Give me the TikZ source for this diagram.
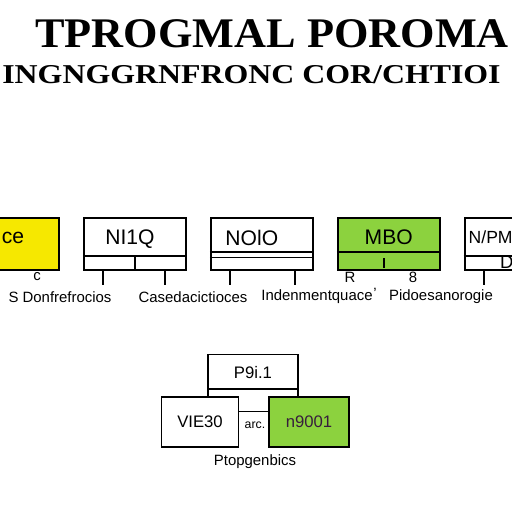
\documentclass[tikz,border=0pt]{standalone}
\usepackage{fontspec}
\usepackage{graphicx}
\setmainfont{Liberation Serif}
\setsansfont{Liberation Sans}
\usetikzlibrary{positioning, calc}

\definecolor{boxyellow}{RGB}{246,232,0}
\definecolor{boxgreen}{RGB}{140,210,62}
\definecolor{darktext}{RGB}{55,30,60}

\begin{document}
\begin{tikzpicture}[
    x=0.02cm, y=-0.02cm,
    node distance=0.46cm,
    box/.style={rectangle, draw, line width=1.1pt, minimum width=2.04cm, minimum height=1.04cm, inner sep=0pt},
    boxtext/.style={font=\sffamily\fontsize{12}{12}\selectfont},
    smalltext/.style={font=\sffamily\fontsize{9.5}{10}\selectfont},
    stub/.style={line width=1.1pt},
    label/.style={font=\sffamily\fontsize{8.5}{9}\selectfont},
    title/.style={font=\bfseries\fontsize{24}{24}\selectfont, inner sep=0pt}
]
    \useasboundingbox (0,0) rectangle (512,512);

    % Title
    \node[title, anchor=base west] (title-a) at (35,47) {\scalebox{1.05}[1]{TPROGMAL POROMA}};
    \node[title, anchor=base west, font=\bfseries\fontsize{15.5}{16}\selectfont] (title-b) at (2,83)
        {\scalebox{1.17}[1]{INGNGGRNFRONC COR/CHTIOI}};

    % Row of boxes
    \node[box, fill=boxyellow] (b1) at (8,244) {};
    \node[box, right=of b1] (b2) {};
    \node[box, right=of b2] (b3) {};
    \node[box, right=of b3, fill=boxgreen] (b4) {};
    \node[box, right=of b4] (b5) {};

    \node[boxtext] (b1-txt) at ($(b1.center)+(5,-6)$) {ce};
    \node[boxtext] (b2-txt) at ($(b2.center)+(-5,-5)$) {NI1Q};
    \node[boxtext] (b3-txt) at ($(b3.center)+(-10,-6)$) {NOlO};
    \node[boxtext] (b4-txt) at ($(b4.center)+(0,-7)$) {MBO};
    \node[boxtext, font=\sffamily\fontsize{10}{11}\selectfont] (b5-txt) at ($(b5.west)+(27,-7)$) {N/PM};
    \node[boxtext, font=\sffamily\fontsize{10.5}{11}\selectfont] (b5-d) at ($(b5.west)+(43,18)$) {D};

    % Inner lines
    \draw[stub] ($(b2.south west)!0.27!(b2.north west)$) -- ($(b2.south east)!0.27!(b2.north east)$);
    \draw[stub] (b2.south) -- ++(0,-14);
    \draw[stub] ($(b3.south west)!0.35!(b3.north west)$) -- ($(b3.south east)!0.35!(b3.north east)$);
    \draw[stub] ($(b3.south west)!0.25!(b3.north west)$) -- ($(b3.south east)!0.25!(b3.north east)$);
    \draw[stub] ($(b4.south west)!0.35!(b4.north west)$) -- ($(b4.south east)!0.35!(b4.north east)$);
    \draw[stub] ($(b4.south)+(-5,-3)$) -- ++(0,-10);
    \draw[stub] ($(b5.south west)!0.27!(b5.north west)$) -- ($(b5.south east)!0.27!(b5.north east)$);

    % Stubs below the boxes
    \draw[stub] ($(b2.south west)+(20,0)$) -- ++(0,14);
    \draw[stub] ($(b2.south east)+(-22,0)$) -- ++(0,14);
    \draw[stub] ($(b3.south west)+(20,0)$) -- ++(0,14);
    \draw[stub] ($(b3.south east)+(-19,0)$) -- ++(0,14);
    \draw[stub] ($(b5.south west)+(20,0)$) -- ++(0,14);

    % Labels under the row
    \node[label] (m1) at (37,277) {c};
    \node[label] (m2) at (350,277) {R};
    \node[label] (m3) at (413,277) {8};
    \node[label] (m4) at (375,293) {'};
    \node[label] (lab1) at (60,297) {S Donfrefrocios};
    \node[label] (lab2) at (193,297) {Casedacictioces};
    \node[label] (lab3) at (317,297) {Indenmentquace};
    \node[label] (lab4) at (441,297) {Pidoesanorogie};

    % Bottom group
    \node[box, minimum width=1.8cm, minimum height=1.14cm] (pbox) at (253,383) {};
    \draw[stub] ($(pbox.south west)!0.4!(pbox.north west)$) -- ($(pbox.south east)!0.4!(pbox.north east)$);
    \node[smalltext] (pbox-txt) at (253,373) {P9i.1};
    \node[box, fill=white, minimum width=1.54cm, minimum height=1cm] (vbox) at (200,422) {};
    \node[box, fill=boxgreen, minimum width=1.6cm, minimum height=1cm] (nbox) at (309,422) {};
    \node[smalltext] (vbox-txt) at (vbox.center) {VIE30};
    \node[smalltext, text=darktext] (nbox-txt) at (nbox.center) {n9001};
    \node[label, font=\sffamily\fontsize{7}{7}\selectfont] (mid) at (255,425) {arc.};
    \node[label] (lab5) at (255,462) {Ptopgenbics};
\end{tikzpicture}
\end{document}
